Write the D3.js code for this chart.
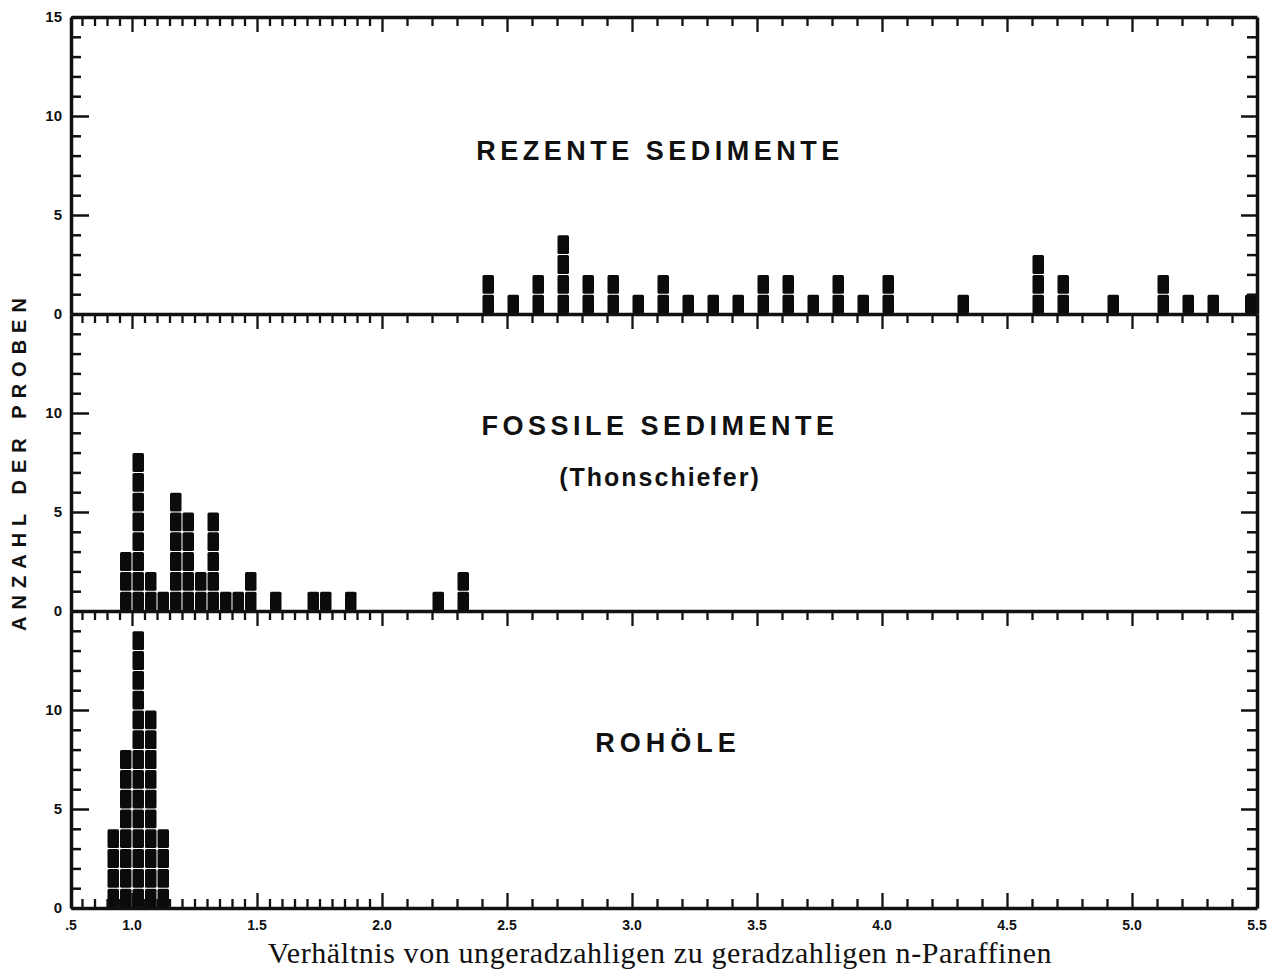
<!DOCTYPE html>
<meta charset="utf-8">
<script src="https://d3js.org/d3.v7.min.js"></script>
<style>
  body { margin: 0; background: #fff; }
  .frame line, .frame path { stroke: #111; }
  text { fill: #111; }
</style>
<div id="chart"></div>
<script>

// ratio of odd to even n-paraffins, counts per bin
var rezenteRatio = [2.4, 2.5, 2.6, 2.7, 2.8, 2.9, 3.0, 3.1, 3.2, 3.3, 3.4, 3.5, 3.6, 3.7, 3.8, 3.9, 4.0, 4.3, 4.6, 4.7, 4.9, 5.1, 5.2, 5.3, 5.45];
var rezenteCount = [2, 1, 2, 4, 2, 2, 1, 2, 1, 1, 1, 2, 2, 1, 2, 1, 2, 1, 3, 2, 1, 2, 1, 1, 1];

var fossilRatio = [0.95, 1.0, 1.05, 1.1, 1.15, 1.2, 1.25, 1.3, 1.35, 1.4, 1.45, 1.55, 1.7, 1.75, 1.85, 2.2, 2.3];
var fossilCount = [3, 8, 2, 1, 6, 5, 2, 5, 1, 1, 2, 1, 1, 1, 1, 1, 2];

var rohoelRatio = [0.9, 0.95, 1.0, 1.05, 1.1];
var rohoelCount = [4, 8, 14, 10, 4];

var panelTitles = ["REZENTE SEDIMENTE", "FOSSILE SEDIMENTE", "ROHÖLE"];

var xMajor = [0.5, 1.0, 1.5, 2.0, 2.5, 3.0, 3.5, 4.0, 4.5, 5.0, 5.5];
var xLabels = [".5", "1.0", "1.5", "2.0", "2.5", "3.0", "3.5", "4.0", "4.5", "5.0", "5.5"];
// fine ticks every .05 below 2.0, every .1 above
var xMinor = d3.range(16, 40).map(function(i) { return i * 0.05; })
  .concat(d3.range(20, 55).map(function(i) { return i / 10; }));

var yMinor = d3.range(0, 16);
var yMajor = [0, 5, 10, 15];

var width = 1284, height = 977;
var left = 71, right = 1257;
var panelTop = 17, panelH = 297;
var titleOffset = [143, 121, 141];

// the figure squeezes .5 - .8 into the first few pixels
var x = d3.scaleLinear()
  .domain([0.5, 0.8, 5.5])
  .range([left, 82, right]);

var svg = d3.select("#chart").append("svg")
  .attr("width", width)
  .attr("height", height)
  .style("font-family", "'Liberation Sans', Arial, sans-serif");

svg.append("rect").attr("width", width).attr("height", height).attr("fill", "#fff");

var panels = [
  {ratio: rezenteRatio, count: rezenteCount, title: panelTitles[0], labels: yMajor},
  {ratio: fossilRatio, count: fossilCount, title: panelTitles[1], labels: [0, 5, 10]},
  {ratio: rohoelRatio, count: rohoelCount, title: panelTitles[2], labels: [0, 5, 10]}
];

panels.forEach(function(p, i) {
  var top = panelTop + i * panelH;
  var y = d3.scaleLinear().domain([0, 15]).range([top + panelH, top]);
  var g = svg.append("g");

  // stacked squares, one per sample
  p.ratio.forEach(function(r, j) {
    g.selectAll(null)
      .data(d3.range(p.count[j]))
      .enter().append("rect")
        .attr("x", x(r) + 0.5)
        .attr("width", x(r + 0.05) - x(r) - 1)
        .attr("y", function(k) { return y(k + 1) + 0.5; })
        .attr("height", function(k) { return y(k) - y(k + 1) - 1; })
        .attr("rx", 1.5)
        .attr("fill", "#0b0b0b");
  });

  // left axis, ticks pointing in
  var la = g.append("g").attr("class", "frame")
    .attr("transform", "translate(" + left + ",0)");
  la.call(d3.axisRight(y).tickValues(yMinor).tickSize(10).tickSizeOuter(0).tickFormat(""));
  la.call(function(s) {
    s.selectAll(".tick line").attr("stroke-width", 2.5)
      .attr("x2", function(d) { return yMajor.indexOf(d) >= 0 ? 18 : 10; });
    s.select(".domain").attr("stroke-width", 3.5);
  });

  // right axis
  var ra = g.append("g").attr("class", "frame")
    .attr("transform", "translate(" + right + ",0)");
  ra.call(d3.axisLeft(y).tickValues(yMinor).tickSize(10).tickSizeOuter(0).tickFormat(""));
  ra.call(function(s) {
    s.selectAll(".tick line").attr("stroke-width", 2.5)
      .attr("x2", function(d) { return yMajor.indexOf(d) >= 0 ? -16 : -10; });
    s.select(".domain").attr("stroke-width", 3.5);
  });

  // y labels
  g.selectAll(null)
    .data(p.labels)
    .enter().append("text")
      .attr("x", 62)
      .attr("y", function(d) { return y(d); })
      .attr("dy", "0.36em")
      .attr("text-anchor", "end")
      .attr("font-size", "15px")
      .attr("font-weight", "bold")
      .text(function(d) { return d; });

  // top edge of each panel, ticks hanging down
  var ta = g.append("g").attr("class", "frame")
    .attr("transform", "translate(0," + top + ")");
  ta.call(d3.axisBottom(x).tickValues(xMinor).tickSize(8).tickSizeOuter(0).tickFormat(""));
  ta.call(function(s) {
    s.selectAll(".tick line").attr("stroke-width", 2.3)
      .attr("y2", function(d) { return Math.abs(d * 2 - Math.round(d * 2)) < 1e-6 ? 15 : 9; });
    s.select(".domain").attr("stroke-width", 3.5);
  });

  // title
  g.append("text")
    .attr("x", i == 2 ? 668 : 660)
    .attr("y", top + titleOffset[i])
    .attr("text-anchor", "middle")
    .attr("font-size", "27px")
    .attr("font-weight", "bold")
    .attr("letter-spacing", i == 2 ? "5px" : "4.5px")
    .text(p.title);

  if (i == 1) {
    g.append("text")
      .attr("x", 660)
      .attr("y", top + 172)
      .attr("text-anchor", "middle")
      .attr("font-size", "25px")
      .attr("font-weight", "bold")
      .attr("letter-spacing", "2px")
      .text("(Thonschiefer)");
  }
});

// bottom axis, ticks pointing up
var bottom = panelTop + 3 * panelH;
var ba = svg.append("g").attr("class", "frame")
  .attr("transform", "translate(0," + bottom + ")");
ba.call(d3.axisTop(x).tickValues(xMinor).tickSize(8).tickSizeOuter(0).tickFormat(""));
ba.call(function(s) {
  s.selectAll(".tick line").attr("stroke-width", 2.3)
    .attr("y2", function(d) { return Math.abs(d * 2 - Math.round(d * 2)) < 1e-6 ? -15 : -9; });
  s.select(".domain").attr("stroke-width", 3.5);
});

svg.append("g").selectAll("text")
  .data(xMajor)
  .enter().append("text")
    .attr("x", function(d) { return x(d); })
    .attr("y", bottom + 22)
    .attr("text-anchor", "middle")
    .attr("font-size", "14px")
    .attr("font-weight", "bold")
    .text(function(d, i) { return xLabels[i]; });

// axis titles
svg.append("text")
  .attr("transform", "translate(26,461) rotate(-90)")
  .attr("text-anchor", "middle")
  .attr("font-size", "20px")
  .attr("font-weight", "bold")
  .attr("letter-spacing", "7px")
  .text("ANZAHL DER PROBEN");

svg.append("text")
  .attr("x", 660)
  .attr("y", 963)
  .attr("text-anchor", "middle")
  .style("font-family", "'Liberation Serif', 'Times New Roman', serif")
  .attr("font-size", "30px")
  .attr("letter-spacing", "0.6px")
  .text("Verhältnis von ungeradzahligen zu geradzahligen n-Paraffinen");

</script>
